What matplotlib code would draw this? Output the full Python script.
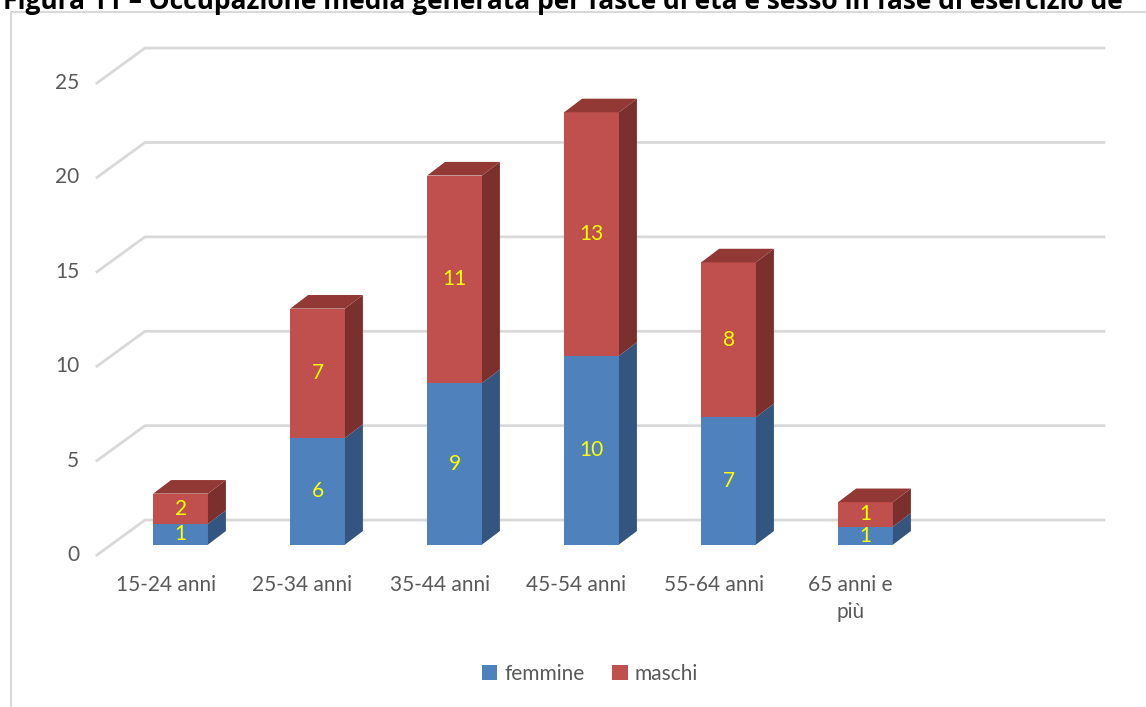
import matplotlib
matplotlib.use("Agg")
import matplotlib.pyplot as plt
from matplotlib.patches import Polygon, Patch
from matplotlib.lines import Line2D

# ---- data ----
categories = ["15-24 anni", "25-34 anni", "35-44 anni", "45-54 anni", "55-64 anni", "65 anni e\npiù"]
femmine = [1.1, 5.65, 8.55, 10.0, 6.75, 0.95]
maschi = [1.6, 6.85, 11.0, 12.9, 8.2, 1.3]
femmine_labels = ["1", "6", "9", "10", "7", "1"]
maschi_labels = ["2", "7", "11", "13", "8", "1"]
yticks = [0, 5, 10, 15, 20, 25]
series_names = ["femmine", "maschi"]
title = "Figura 11 – Occupazione media generata per fasce di età e sesso in fase di esercizio de"

# ---- style ----
W, H = 1146, 707
FONT = ["Lato", "DejaVu Sans"]
c_front = {"femmine": "#4F81BD", "maschi": "#C0504D"}
c_side = {"femmine": "#34557F", "maschi": "#7C302E"}
c_top = {"femmine": "#41699C", "maschi": "#923835"}
grid_c = "#D9D9D9"
txt_c = "#595959"
FS = 15

n_slots = 7
wall_dx, wall_dy = 0.35, 1.85     # depth of back wall (data units)
bar_off_x, bar_off_y = 0.11, 0.55  # bar front offset from floor front
bar_dx, bar_dy = 0.131, 0.72       # bar depth
bar_w = 0.40

fig = plt.figure(figsize=(W / 100, H / 100), dpi=100)
ax = fig.add_axes([97 / W, 152 / H, 959 / W, 472 / H])
ax.set_xlim(-0.5, n_slots - 0.5)
ax.set_ylim(0, 25)
ax.axis("off")

# gridlines (back wall + left diagonal)
for v in yticks:
    ax.add_line(Line2D([-0.5, -0.5 + wall_dx, n_slots - 0.5 + wall_dx],
                       [v, v + wall_dy, v + wall_dy],
                       color=grid_c, lw=2, clip_on=False, zorder=1))
    ax.text(-0.63, v, str(v), ha="right", va="center", color=txt_c,
            fontsize=FS, family=FONT, clip_on=False)

# bars
for i, cat in enumerate(categories):
    x0 = i + bar_off_x - bar_w / 2
    x1 = x0 + bar_w
    base = bar_off_y
    for name, vals, labs in (("femmine", femmine, femmine_labels),
                             ("maschi", maschi, maschi_labels)):
        v = vals[i]
        y0, y1 = base, base + v
        ax.bar(i + bar_off_x, v, width=bar_w, bottom=y0, color=c_front[name],
               zorder=3, clip_on=False, linewidth=0)
        ax.add_patch(Polygon([(x1, y0), (x1 + bar_dx, y0 + bar_dy),
                              (x1 + bar_dx, y1 + bar_dy), (x1, y1)],
                             closed=True, facecolor=c_side[name], lw=0,
                             zorder=3, clip_on=False))
        ax.text(i + bar_off_x, (y0 + y1) / 2, labs[i], ha="center", va="center",
                color="#FFFF00", fontsize=FS, family=FONT, zorder=5, clip_on=False)
        base = y1
    name = "maschi"
    ax.add_patch(Polygon([(x0, base), (x1, base), (x1 + bar_dx, base + bar_dy),
                          (x0 + bar_dx, base + bar_dy)],
                         closed=True, facecolor=c_top[name], lw=0,
                         zorder=3, clip_on=False))
    ax.text(i, -1.05, cat, ha="center", va="top", color=txt_c, fontsize=FS,
            family=FONT, linespacing=1.45, clip_on=False)

# legend
handles = [Patch(facecolor=c_front[s], edgecolor="none", label=s) for s in series_names]
leg = fig.legend(handles=handles, loc="center", bbox_to_anchor=(590 / W, 1 - 674 / H),
                 ncol=2, frameon=False, handlelength=0.75, handleheight=0.75,
                 handletextpad=0.35, columnspacing=1.3,
                 prop={"family": FONT, "size": 15})
for t in leg.get_texts():
    t.set_color(txt_c)

# chart border
fig.add_artist(Line2D([11 / W, 11 / W], [0, 1 - 12 / H], color=grid_c, lw=1.5,
                      transform=fig.transFigure))
fig.add_artist(Line2D([11 / W, 1], [1 - 12 / H, 1 - 12 / H], color=grid_c, lw=1.5,
                      transform=fig.transFigure))

# clipped title (cut at the top edge as in the reference)
fig.text(3 / W, 1 - 9 / H, title, ha="left", va="baseline", fontsize=19,
         fontweight="bold", family=["Open Sans", "DejaVu Sans"], color="black")

fig.savefig("out.png", dpi=100)
